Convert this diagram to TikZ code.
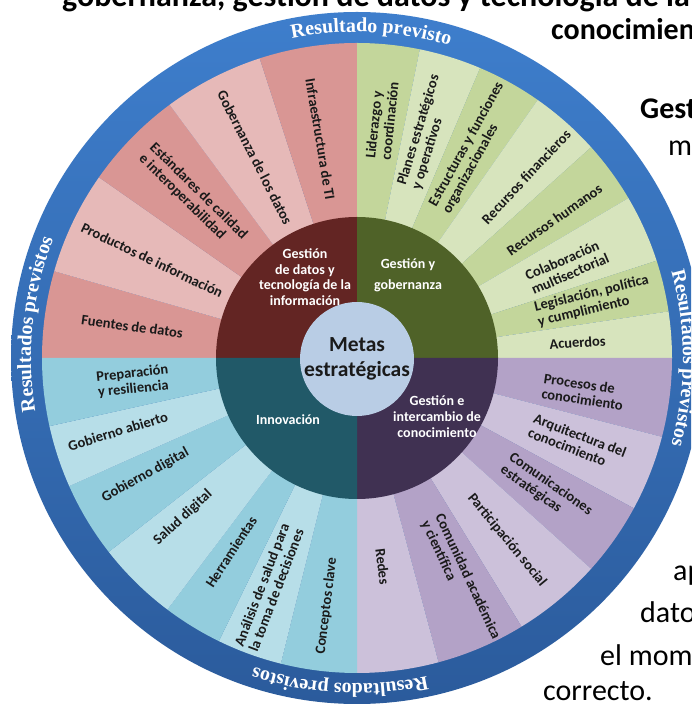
\documentclass[tikz,border=0pt]{standalone}
\usepackage{fontspec}
\setmainfont{Carlito}
\newfontfamily\ringfont{Liberation Serif}
\usetikzlibrary{decorations.text}

\definecolor{ringtop}{HTML}{3E7ECC}
\definecolor{ringbot}{HTML}{2B5B9C}
\definecolor{datmid}{HTML}{D99694}
\definecolor{datlight}{HTML}{E6B9B8}
\definecolor{datdark}{HTML}{632523}
\definecolor{govmid}{HTML}{C3D69B}
\definecolor{govlight}{HTML}{D7E4BD}
\definecolor{govdark}{HTML}{4F6228}
\definecolor{knwmid}{HTML}{B3A2C7}
\definecolor{knwlight}{HTML}{CCC1DA}
\definecolor{knwdark}{HTML}{403152}
\definecolor{innmid}{HTML}{93CDDD}
\definecolor{innlight}{HTML}{B7DEE8}
\definecolor{inndark}{HTML}{215968}
\definecolor{metas}{HTML}{B9CDE5}
\definecolor{ink}{HTML}{1A1A1A}

\tikzset{
  seglabel/.style={font=\bfseries\fontsize{14.5}{15.5}\selectfont, text=ink, align=left, inner sep=0pt},
  quadlabel/.style={font=\bfseries\fontsize{14}{15.5}\selectfont, text=white, align=center, inner sep=0pt},
  slidetext/.style={font=\fontsize{30}{30}\selectfont, anchor=base west, inner sep=0pt},
  titletext/.style={font=\bfseries\fontsize{30}{30}\selectfont, anchor=base west, inner sep=0pt},
  ringtext/.style={decorate, decoration={text along path, text align=center,
    text={|\ringfont\bfseries\fontsize{20}{20}\selectfont\color{white}|#1}}}
}

\begin{document}
\begin{tikzpicture}[x=1pt,y=1pt]
\clip (0,0) rectangle (691,704);
\fill[white] (0,0) rectangle (691,704);

% text of the slide, cut by the frame
\node[titletext, font=\bfseries\fontsize{32}{32}\selectfont] (title) at (62,697) {gobernanza, gestión de datos y tecnología de la};
\node[titletext] (title2) at (551,664) {conocimien};
\node[titletext] (gest) at (640,585) {Gest};
\node[slidetext] (m) at (668,548) {m};
\node[slidetext] (ap) at (673,123) {ap};
\node[slidetext] (dato) at (640,81) {dato};
\node[slidetext] (mom) at (600,38) {el mom};
\node[slidetext] (correcto) at (543,4) {correcto.};

\begin{scope}[shift={(357,346)}]
% blue ring
\shade[top color=ringtop, bottom color=ringbot] (0,0) circle[radius=346];

% wedges
\foreach \a/\b/\col in {180/164/datmid,164/145/datlight,145/126.5/datmid,126.5/108/datlight,108/90/datmid,
  90/78.5/govmid,78.5/67/govlight,67/55/govmid,55/42/govlight,42/30.5/govmid,30.5/18/govlight,18/8.5/govmid,8.5/0/govlight,
  0/-14.5/knwmid,-14.5/-28.5/knwlight,-28.5/-42/knwmid,-42/-58.5/knwlight,-58.5/-75/knwmid,-75/-90/knwlight,
  -90/-104/innmid,-104/-116/innlight,-116/-127/innmid,-127/-142/innlight,-142/-156/innmid,-156/-167.5/innlight,-167.5/-180/innmid}
  \fill[\col] (0,0) -- (\a:315) arc[start angle=\a, end angle=\b, radius=315] -- cycle;

% quadrants
\fill[datdark] (0,0) -- (180:141) arc[start angle=180, end angle=90, radius=141] -- cycle;
\fill[govdark] (0,0) -- (90:141) arc[start angle=90, end angle=0, radius=141] -- cycle;
\fill[knwdark] (0,0) -- (0:141) arc[start angle=0, end angle=-90, radius=141] -- cycle;
\fill[inndark] (0,0) -- (-90:141) arc[start angle=-90, end angle=-180, radius=141] -- cycle;

% labels, left half read inwards
\foreach \n/\t/\r/\txt in {dat1/172/227/{Fuentes de datos},
  dat2/154.5/227/{Productos de información},
  dat3/135.5/230/{Estándares de calidad\\e interoperabilidad},
  dat4/117/225/{Gobernanza de los datos},
  dat5/99.5/222/{Infraestructura de TI},
  inn1/186/225/{Preparación\\y resiliencia},
  inn2/197/250/{Gobierno abierto},
  inn3/209/242/{Gobierno digital},
  inn4/222.5/236/{Salud digital},
  inn5/237/231/{Herramientas},
  inn6/249/246/{Análisis de salud para\\la toma de decisiones},
  inn7/263/250/{Conceptos clave}}
  \node[seglabel, rotate=\t-180] (\n) at (\t:\r) {\txt};

% labels, right half read outwards
\foreach \n/\t/\r/\txt in {gov1/84/239/{Liderazgo y\\coordinación},
  gov2/73/236/{Planes estratégicos\\y operativos},
  gov3/61/240/{Estructuras y funciones\\organizacionales},
  gov4/47/248/{Recursos financieros},
  gov5/35/241/{Recursos humanos},
  gov6/23.5/229/{Colaboración\\multisectorial},
  gov7/13.5/243/{Legislación, política\\y cumplimiento},
  gov8/4/221/{Acuerdos},
  knw1/-8.5/229/{Procesos de\\conocimiento},
  knw2/-21/236/{Arquitectura del\\conocimiento},
  knw3/-35/231/{Comunicaciones\\estratégicas},
  knw4/-50.5/236/{Participación social},
  knw5/-65/245/{Comunidad académica\\y científica},
  knw6/-83/210/{Redes}}
  \node[seglabel, rotate=\t] (\n) at (\t:\r) {\txt};

\node[quadlabel] (datos) at (-52,81) {Gestión\\de datos y\\tecnología de la\\información};
\node[quadlabel, font=\bfseries\fontsize{14}{21}\selectfont] (gobierno) at (51,83) {Gestión y\\gobernanza};
\node[quadlabel, font=\bfseries\fontsize{14}{16}\selectfont] (conocimiento) at (80,-59) {Gestión e\\intercambio de\\conocimiento};
\node[quadlabel] (innovacion) at (-69,-62) {Innovación};

\node[circle, fill=metas, minimum size=114pt, inner sep=0pt, align=center, text=ink,
  font=\bfseries\fontsize{21.5}{25}\selectfont] (metas) at (0,-1) {Metas\\estratégicas};

% ring texts
\path[ringtext={Resultado previsto}] (125:326) arc[start angle=125, end angle=50, radius=326];
\path[ringtext={Resultados previstos}] (210:326) arc[start angle=210, end angle=138, radius=326];
\path[ringtext={Resultados previstos}] (37:326) arc[start angle=37, end angle=-37, radius=326];
\path[ringtext={Resultados previstos}] (302:326) arc[start angle=302, end angle=232, radius=326];
\end{scope}
\end{tikzpicture}
\end{document}
